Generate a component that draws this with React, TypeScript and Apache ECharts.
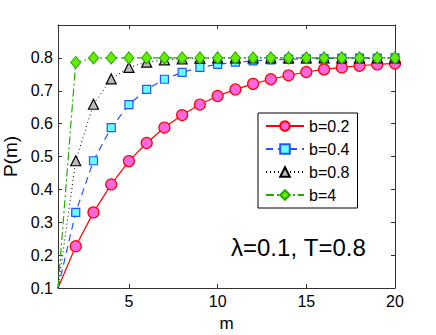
import React, { useEffect, useRef } from "react";
import * as echarts from "echarts";

const mValues = [1, 2, 3, 4, 5, 6, 7, 8, 9, 10, 11, 12, 13, 14, 15, 16, 17, 18, 19, 20];
const seriesNames = ["b=0.2", "b=0.4", "b=0.8", "b=4"];
const pB02 = [0.1, 0.227, 0.33, 0.415, 0.486, 0.541, 0.588, 0.626, 0.658, 0.684, 0.704, 0.721, 0.735, 0.747, 0.757, 0.765, 0.771, 0.776, 0.780, 0.783];
const pB04 = [0.1, 0.33, 0.487, 0.588, 0.658, 0.704, 0.735, 0.756, 0.771, 0.780, 0.787, 0.791, 0.794, 0.796, 0.797, 0.798, 0.799, 0.799, 0.799, 0.8];
const pB08 = [0.1, 0.487, 0.659, 0.736, 0.771, 0.787, 0.794, 0.797, 0.799, 0.8, 0.8, 0.8, 0.8, 0.8, 0.8, 0.8, 0.8, 0.8, 0.8, 0.8];
const pB4 = [0.1, 0.786, 0.8, 0.8, 0.8, 0.8, 0.8, 0.8, 0.8, 0.8, 0.8, 0.8, 0.8, 0.8, 0.8, 0.8, 0.8, 0.8, 0.8, 0.8];
const xTicks = [5, 10, 15, 20];
const yTicks = [0.1, 0.2, 0.3, 0.4, 0.5, 0.6, 0.7, 0.8];
const annotation = "λ=0.1, T=0.8";

const FONT = "Liberation Sans, Arial, sans-serif";

export default function App() {
  const ref = useRef<HTMLDivElement>(null);
  useEffect(() => {
    if (!ref.current) return;
    const chart = echarts.init(ref.current, null, { renderer: "svg" });
    // first point (m=1) is drawn without a marker in the reference
    const pair = (arr: number[]) =>
      mValues.map((m, i) => (i === 0 ? { value: [m, arr[i]], symbol: "none" } : [m, arr[i]]));
    const axisLineStyle = { show: true, lineStyle: { color: "#333", width: 1 } };
    const mkX = (pos: string, labels: boolean) => ({
      type: "value",
      position: pos,
      min: 1,
      max: 20,
      name: labels ? "m" : "",
      nameLocation: "middle",
      nameGap: 27,
      nameTextStyle: { fontFamily: FONT, fontSize: 17, color: "#000" },
      axisLine: axisLineStyle,
      axisTick: { show: true, inside: true, length: 4, customValues: xTicks, lineStyle: { color: "#333" } },
      axisLabel: { show: labels, customValues: xTicks, fontFamily: FONT, fontSize: 16, color: "#000", margin: 5 },
      splitLine: { show: false },
    });
    const mkY = (pos: string, labels: boolean) => ({
      type: "value",
      position: pos,
      min: 0.1,
      max: 0.9,
      name: labels ? "P(m)" : "",
      nameLocation: "middle",
      nameGap: 35,
      nameTextStyle: { fontFamily: FONT, fontSize: 19, color: "#000" },
      axisLine: axisLineStyle,
      axisTick: { show: true, inside: true, length: 4, customValues: yTicks, lineStyle: { color: "#333" } },
      axisLabel: {
        show: labels,
        customValues: yTicks,
        fontFamily: FONT,
        fontSize: 16,
        color: "#000",
        margin: 5,
        formatter: (v: number) => v.toFixed(1),
      },
      splitLine: { show: false },
    });
    chart.setOption({
      animation: false,
      backgroundColor: "#fff",
      grid: { left: 58, right: 41, top: 25, bottom: 47, containLabel: false, outerBoundsMode: "none" },
      xAxis: [mkX("bottom", true), mkX("top", false)],
      yAxis: [mkY("left", true), mkY("right", false)],
      legend: {
        orient: "vertical",
        left: 258,
        top: 113,
        padding: [5, 8, 5, 7],
        itemGap: 7,
        itemWidth: 38,
        itemHeight: 12,
        borderColor: "#000",
        borderWidth: 1,
        backgroundColor: "#fff",
        textStyle: { fontFamily: FONT, fontSize: 16, color: "#000", padding: [0, 0, 0, 0] },
        data: seriesNames,
      },
      graphic: [
        {
          type: "text",
          left: 231,
          top: 235,
          style: { text: annotation, fontFamily: FONT, fontSize: 24, fill: "#000" },
        },
      ],
      series: [
        {
          name: seriesNames[0],
          type: "line",
          data: pair(pB02),
          symbol: "circle",
          symbolSize: 11,
          showSymbol: true,
          lineStyle: { color: "#ff0000", width: 1.2 },
          itemStyle: { color: "#ff66dd", borderColor: "#ff0000", borderWidth: 1.2 },
          z: 2,
        },
        {
          name: seriesNames[1],
          type: "line",
          data: pair(pB04),
          symbol: "rect",
          symbolSize: 8,
          lineStyle: { color: "#2255ff", width: 1.2, type: [7, 5] },
          itemStyle: { color: "#66ffff", borderColor: "#2255ff", borderWidth: 1.2 },
          z: 3,
        },
        {
          name: seriesNames[2],
          type: "line",
          data: pair(pB08),
          symbol: "triangle",
          symbolSize: 10,
          lineStyle: { color: "#000", width: 1, type: [1, 3] },
          itemStyle: { color: "#bbbbbb", borderColor: "#000", borderWidth: 1.2 },
          z: 4,
        },
        {
          name: seriesNames[3],
          type: "line",
          data: pair(pB4),
          symbol: "diamond",
          symbolSize: [10, 12],
          lineStyle: { color: "#22aa00", width: 1.2, type: [8, 3, 2, 3] },
          itemStyle: { color: "#66ee00", borderColor: "#22aa00", borderWidth: 1 },
          z: 5,
        },
      ],
    });
    return () => chart.dispose();
  }, []);
  return <div ref={ref} style={{ width: 436, height: 335, position: "absolute", left: 0, top: 0 }} />;
}
